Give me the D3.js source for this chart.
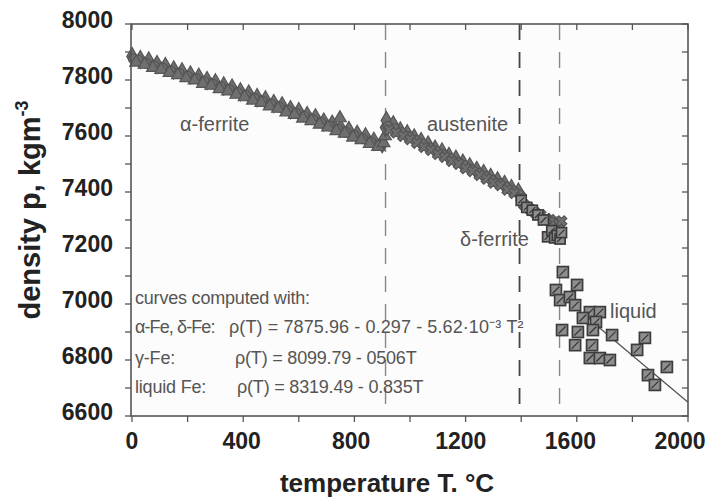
<!DOCTYPE html>
<html><head><meta charset="utf-8">
<script src="https://cdn.jsdelivr.net/npm/d3@7"></script>
<style>
html,body{margin:0;padding:0;background:#fff;}
svg text{font-family:"Liberation Sans",Arial,sans-serif;}
</style></head>
<body><svg id="c" width="710" height="500"></svg>
<script>
// ---------- data ----------
const xTicks = [0, 400, 800, 1200, 1600, 2000];
const yTicks = [6600, 6800, 7000, 7200, 7400, 7600, 7800, 8000];
const transitionT = [912, 1394, 1538];

// alpha ferrite, diamonds
const alphaA_T = [0,30,60,90,120,150,180,210,240,270,300,330,360,390,420,450,480,510,540,570,600,630,660,690,720,750,780,810,840,870,900];
const alphaA_R = [7884,7873,7868,7855,7848,7836,7829,7818,7810,7798,7790,7779,7771,7758,7750,7737,7729,7716,7708,7694,7687,7673,7665,7650,7642,7628,7620,7606,7597,7581,7572];
// alpha ferrite, triangles
const alphaB_T = [15,45,75,105,135,165,195,225,255,285,315,345,375,405,435,465,495,525,555,585,615,645,675,705,735,748,765,795,825,855,885,905,910];
const alphaB_R = [7863,7855,7844,7837,7826,7818,7807,7799,7787,7780,7768,7760,7748,7739,7727,7719,7706,7698,7685,7676,7663,7654,7641,7631,7618,7664,7609,7595,7586,7572,7562,7575,7600];
// alpha ferrite, circles
const alphaC_T = [5,25,50,80,110,140,170,200,230,260,290,320,350,380,410,440,470,500,530,560,590,620,650,680,710,740,770,800,830,860,890];
const alphaC_R = [7876,7870,7860,7851,7843,7833,7824,7814,7805,7795,7786,7776,7766,7755,7745,7735,7724,7714,7703,7692,7681,7670,7659,7647,7636,7625,7613,7602,7590,7578,7566];
// austenite, diamonds
const gammaA_T = [912,915,940,965,990,1015,1040,1065,1090,1115,1140,1165,1190,1215,1240,1265,1290,1315,1340,1365,1390];
const gammaA_R = [7630,7655,7640,7618,7608,7593,7580,7568,7553,7543,7527,7517,7503,7490,7477,7466,7452,7440,7427,7412,7400];
// austenite, crosses
const gammaB_T = [925,950,975,1000,1025,1050,1075,1100,1125,1150,1175,1200,1225,1250,1275,1300,1325,1350,1375,1400];
const gammaB_R = [7622,7612,7600,7588,7575,7560,7550,7535,7525,7510,7500,7484,7474,7460,7447,7433,7424,7408,7396,7380];
// austenite, circles
const gammaC_T = [920,945,970,995,1020,1045,1070,1095,1120,1145,1170,1195,1220,1245,1270,1295,1320,1345,1370,1395];
const gammaC_R = [7635,7626,7612,7598,7585,7572,7558,7545,7533,7520,7506,7495,7480,7468,7455,7442,7430,7418,7404,7390];
// delta ferrite, squares and crosses
const deltaA_T = [1400,1420,1440,1460,1480,1495,1510,1520,1530,1540,1545];
const deltaA_R = [7370,7345,7335,7318,7300,7240,7262,7236,7245,7232,7255];
const deltaB_T = [1410,1430,1450,1470,1490,1505,1520,1535,1545];
const deltaB_R = [7355,7340,7326,7318,7305,7300,7292,7285,7296];
// liquid, squares
const liquidT = [1550,1601,1525,1540,1575,1594,1647,1683,1622,1669,1547,1604,1658,1594,1655,1647,1683,1719,1727,1817,1845,1856,1881,1924];
const liquidR = [7114,7068,7050,7014,7025,6996,6971,6971,6950,6936,6907,6900,6907,6853,6853,6807,6807,6800,6889,6836,6879,6746,6711,6775];
// liquid fit line end points
const liquidLineT = [1538, 2000];
const liquidLineR = [7035, 6649];

// ---------- layout ----------
const svg = d3.select("#c");
const L = 131, R = 688, T = 24, B = 416;
const x = d3.scaleLinear().domain([0, 2000]).range([L + 1, R]);
const y = d3.scaleLinear().domain([6600, 8000]).range([B, T]);
const frame = "#555";
const markStroke = "#555", markFill = "#6f6f6f";

svg.append("rect").attr("x", L).attr("y", T).attr("width", R - L).attr("height", B - T).attr("fill", "#fcfcfc");

// dashed transition lines
svg.append("g").selectAll("line").data(transitionT).join("line")
  .attr("x1", d => x(d)).attr("x2", d => x(d)).attr("y1", T).attr("y2", B)
  .attr("stroke", (d, i) => i === 1 ? "#444" : "#888")
  .attr("stroke-width", (d, i) => i === 1 ? 1.8 : 1.4)
  .attr("stroke-dasharray", "16,12");

// markers
function pts(Ts, Rs) { return Ts.map((t, i) => [t, Rs[i]]); }
function drawSym(data, type, size, rot) {
  const g = svg.append("g");
  g.selectAll("path").data(data).join("path")
    .attr("d", d3.symbol().type(type).size(size))
    .attr("transform", d => `translate(${x(d[0])},${y(d[1])}) rotate(${rot || 0})`)
    .attr("fill", markFill).attr("stroke", markStroke).attr("stroke-width", 1.2);
}
drawSym(pts(alphaA_T, alphaA_R), d3.symbolDiamond, 95);
drawSym(pts(alphaC_T, alphaC_R), d3.symbolCircle, 75);
drawSym(pts(alphaB_T, alphaB_R), d3.symbolTriangle, 70);
drawSym(pts(gammaA_T, gammaA_R), d3.symbolDiamond, 95);
drawSym(pts(gammaC_T, gammaC_R), d3.symbolCircle, 75);
drawSym(pts(gammaB_T, gammaB_R), d3.symbolCross, 70, 45);
drawSym(pts(deltaB_T, deltaB_R), d3.symbolCross, 70, 45);

// liquid line
const line = d3.line().x(d => x(d[0])).y(d => y(d[1]));
svg.append("path").datum(pts(liquidLineT, liquidLineR)).attr("d", line)
  .attr("fill", "none").attr("stroke", "#555").attr("stroke-width", 1.3);

// squares with diagonal
function drawSquares(data, s) {
  const g = svg.append("g").selectAll("g").data(data).join("g")
    .attr("transform", d => `translate(${x(d[0])},${y(d[1])})`);
  g.append("rect").attr("x", -s / 2).attr("y", -s / 2).attr("width", s).attr("height", s)
    .attr("fill", "#8e8e8e").attr("stroke", "#3c3c3c").attr("stroke-width", 1.7);
  g.append("line").attr("x1", -s / 2 + 2).attr("y1", s / 2 - 2).attr("x2", s / 2 - 2).attr("y2", -s / 2 + 2)
    .attr("stroke", "#333").attr("stroke-width", 1.2);
}
drawSquares(pts(deltaA_T, deltaA_R), 10);
drawSquares(pts(liquidT, liquidR), 11);

// frame
svg.append("rect").attr("x", L).attr("y", T).attr("width", R - L).attr("height", B - T)
  .attr("fill", "none").attr("stroke", frame).attr("stroke-width", 1.6);

// axes ticks
const axG = svg.append("g").attr("stroke", frame).attr("stroke-width", 1.3);
const xMinor = d3.range(0, 2001, 200);
const yMinor = d3.range(6600, 8001, 100);
axG.selectAll(".bt").data(xMinor).join("line").attr("x1", d => x(d)).attr("x2", d => x(d)).attr("y1", B).attr("y2", B + 6);
axG.selectAll(".tt").data(xMinor).join("line").attr("class","tt").attr("x1", d => x(d)).attr("x2", d => x(d)).attr("y1", T).attr("y2", T + 6);
axG.selectAll(".lt").data(yMinor).join("line").attr("class","lt").attr("x1", L - 6).attr("x2", L).attr("y1", d => y(d)).attr("y2", d => y(d));
axG.selectAll(".rt").data(yMinor).join("line").attr("class","rt").attr("x1", R - 6).attr("x2", R).attr("y1", d => y(d)).attr("y2", d => y(d));

// tick labels
svg.append("g").selectAll("text").data(xTicks).join("text")
  .attr("x", d => x(d) - d / 2000 * 8).attr("y", 449).attr("text-anchor", "middle")
  .attr("font-size", 23).attr("font-weight", "bold").attr("fill", "#222").text(d => d);
svg.append("g").selectAll("text").data(yTicks).join("text")
  .attr("x", 113).attr("y", d => y(d) + 4).attr("text-anchor", "end")
  .attr("font-size", 23).attr("font-weight", "bold").attr("fill", "#222").text(d => d);

// axis titles
svg.append("text").attr("x", 387).attr("y", 492).attr("text-anchor", "middle")
  .attr("font-size", 26).attr("font-weight", "bold").attr("fill", "#222")
  .text("temperature T. °C");
const yl = svg.append("text").attr("transform", "translate(40,210) rotate(-90)").attr("text-anchor", "middle")
  .attr("font-size", 29).attr("font-weight", "bold").attr("fill", "#222");
yl.append("tspan").text("density p, kgm");
yl.append("tspan").attr("font-size", 18).attr("dy", -12).text("-3");

// phase labels
const lab = svg.append("g").attr("fill", "#555").attr("font-size", 20);
lab.append("text").attr("x", 180).attr("y", 131).text("α-ferrite");
lab.append("text").attr("x", 427).attr("y", 131).text("austenite");
lab.append("text").attr("x", 460).attr("y", 246).text("δ-ferrite");
lab.append("text").attr("x", 610).attr("y", 318).text("liquid");

// formula box
const fm = svg.append("g").attr("fill", "#555").attr("font-size", 18).attr("letter-spacing", -0.2);
fm.append("text").attr("x", 135).attr("y", 304).text("curves computed with:");
fm.append("text").attr("x", 135).attr("y", 333).attr("letter-spacing", -0.9).text("α-Fe, δ-Fe:");
fm.append("text").attr("x", 229).attr("y", 333).attr("letter-spacing", 0.1).text("ρ(T) = 7875.96 - 0.297 - 5.62·10⁻³ T²");
fm.append("text").attr("x", 135).attr("y", 364).text("γ-Fe:");
fm.append("text").attr("x", 235).attr("y", 364).text("ρ(T) = 8099.79 - 0506T");
fm.append("text").attr("x", 135).attr("y", 393).text("liquid Fe:");
fm.append("text").attr("x", 237).attr("y", 393).text("ρ(T) = 8319.49 - 0.835T");
</script></body></html>
